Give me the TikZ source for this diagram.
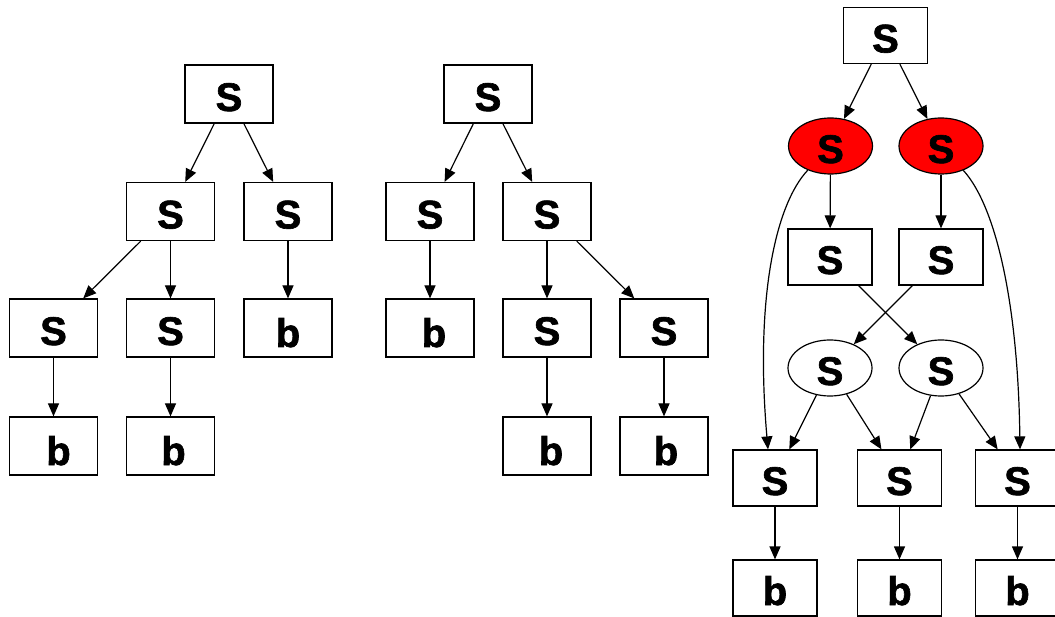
\documentclass[tikz,border=0pt]{standalone}
\usepackage{fontspec}
\setmainfont{Liberation Sans}[BoldFeatures={FakeBold=1.6}]
\usetikzlibrary{arrows.meta,shapes.geometric}
\begin{document}
\begin{tikzpicture}[x=1pt,y=-1pt,
  box/.style={draw,line width=1.2pt,rectangle,inner sep=0pt,minimum width=88pt,minimum height=58pt,
    font=\fontsize{40}{40}\selectfont\bfseries,text height=34pt,text depth=0pt},
  bbox/.style={box,text height=38pt},
  sbox/.style={box,minimum width=84pt,minimum height=56pt},
  ell/.style={box,ellipse,minimum width=84pt,minimum height=56pt},
  redell/.style={ell,fill=red},
  edge/.style={line width=1.2pt,-{Triangle[length=13pt,width=11pt]}}
]
\clip (0,0) rectangle (1055,617);
\fill[white] (0,0) rectangle (1055,617);
% tree 1
\node[box] (a0) at (229,94) {S};
\node[box] (a1) at (170.5,211.5) {S};
\node[box] (a2) at (288,211.5) {S};
\node[box] (a3) at (53.5,328) {S};
\node[box] (a4) at (170.5,328) {S};
\node[bbox] (a5) at (288,328) {b};
\node[bbox] (a6) at (53.5,446) {\hspace*{10pt}b};
\node[bbox] (a7) at (170.5,446) {\hspace*{6pt}b};
\draw[edge] (a0) -- (a1);
\draw[edge] (a0) -- (a2);
\draw[edge] (a1) -- (a3);
\draw[edge] (a1) -- (a4);
\draw[edge] (a2) -- (a5);
\draw[edge] (a3) -- (a6);
\draw[edge] (a4) -- (a7);
% tree 2
\node[box] (b0) at (488,94) {S};
\node[box] (b1) at (430,211.5) {S};
\node[box] (b2) at (547,211.5) {S};
\node[bbox] (b3) at (430,328) {\hspace*{8pt}b};
\node[box] (b4) at (547,328) {S};
\node[box] (b5) at (664,328) {S};
\node[bbox] (b6) at (547,446) {\hspace*{8pt}b};
\node[bbox] (b7) at (664,446) {\hspace*{4pt}b};
\draw[edge] (b0) -- (b1);
\draw[edge] (b0) -- (b2);
\draw[edge] (b1) -- (b3);
\draw[edge] (b2) -- (b4);
\draw[edge] (b2) -- (b5);
\draw[edge] (b4) -- (b6);
\draw[edge] (b5) -- (b7);
% tree 3
\node[sbox] (c0) at (885.5,35.5) {S};
\node[redell] (r1) at (830.5,146) {S};
\node[redell] (r2) at (941,146) {S};
\node[sbox] (c1) at (830,257) {S};
\node[sbox] (c2) at (941,257) {S};
\node[ell] (w1) at (830,368) {S};
\node[ell] (w2) at (941,368) {S};
\node[sbox] (d1) at (775,478) {S};
\node[sbox] (d2) at (899.5,478) {S};
\node[sbox] (d3) at (1017.5,478) {S};
\node[sbox] (e1) at (775,588) {b};
\node[sbox] (e2) at (899.5,588) {b};
\node[sbox] (e3) at (1017.5,588) {b};
\draw[edge] (c0) -- (r1);
\draw[edge] (c0) -- (r2);
\draw[edge] (r1) -- (c1);
\draw[edge] (r2) -- (c2);
\draw[edge] (c1) -- (w2);
\draw[edge] (c2) -- (w1);
\draw[edge] (w1) -- (d1);
\draw[edge] (w1) -- (d2);
\draw[edge] (w2) -- (d2);
\draw[edge] (w2) -- (d3);
\draw[edge] (d1) -- (e1);
\draw[edge] (d2) -- (e2);
\draw[edge] (d3) -- (e3);
\draw[edge] (r1) .. controls (775,205) and (755,300) .. ([xshift=-7pt]d1.north);
\draw[edge] (r2) .. controls (995,205) and (1018,300) .. ([xshift=2.5pt]d3.north);
\end{tikzpicture}
\end{document}
